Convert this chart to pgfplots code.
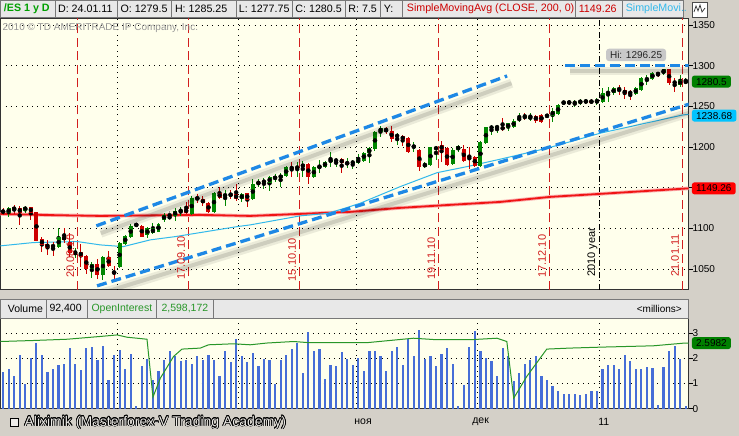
\documentclass[border=0pt]{standalone}
\usepackage{fontspec}
\setmainfont{Liberation Sans}
\usepackage{pgfplots}
\usepackage{pgfplotstable}
\pgfplotsset{compat=1.18}
\usepackage{contour}
\contourlength{0.6pt}

\definecolor{panel}{RGB}{212,208,200}
\definecolor{hdr}{RGB}{232,232,232}
\definecolor{hdrline}{RGB}{120,120,120}
\definecolor{plotbg}{RGB}{255,255,236}
\definecolor{cup}{RGB}{0,135,0}
\definecolor{cdn}{RGB}{205,0,0}
\definecolor{cdoji}{RGB}{175,160,160}
\definecolor{trend}{RGB}{30,136,229}
\definecolor{smared}{RGB}{240,20,20}
\definecolor{smacyan}{RGB}{50,185,235}
\definecolor{expred}{RGB}{210,30,30}
\definecolor{volblue}{RGB}{70,110,215}
\definecolor{oigreen}{RGB}{40,150,40}
\definecolor{boxgreen}{RGB}{0,128,0}
\definecolor{boxcyan}{RGB}{0,195,255}
\definecolor{boxred}{RGB}{255,0,0}
\definecolor{esgreen}{RGB}{0,160,0}
\definecolor{cright}{RGB}{150,150,150}
\definecolor{hibox}{RGB}{200,200,200}

% candles: bar index j, open, high, low, close
\pgfplotstableread[row sep=\\]{
j o h l c\\
1 1118.8 1126.1 1114.6 1124.9\\
4 1122.0 1128.1 1118.8 1126.9\\
10 1077.0 1100.3 1075.8 1089.3\\
13 1069.6 1075.8 1063.5 1071.6\\
16 1050.0 1059.3 1038.9 1056.5\\
18 1043.0 1066.4 1036.9 1064.7\\
21 1052.5 1083.9 1051.2 1082.7\\
22 1081.1 1092.1 1079.8 1090.9\\
23 1089.3 1105.6 1088.1 1103.2\\
24 1103.2 1107.2 1101.6 1105.6\\
26 1092.1 1102.3 1088.1 1100.3\\
27 1094.2 1107.2 1093.3 1100.3\\
28 1096.2 1106.5 1095.4 1105.6\\
29 1110.5 1119.5 1108.5 1116.7\\
31 1115.5 1124.9 1109.7 1122.0\\
32 1120.7 1126.1 1115.5 1122.8\\
34 1117.9 1140.0 1116.7 1137.2\\
38 1120.7 1145.3 1119.5 1144.1\\
40 1139.2 1147.4 1127.7 1142.5\\
43 1135.9 1144.1 1133.0 1142.5\\
45 1135.9 1160.5 1135.1 1154.7\\
46 1154.7 1160.5 1150.7 1157.6\\
47 1156.4 1161.7 1148.2 1158.8\\
48 1156.4 1164.6 1146.5 1163.0\\
49 1160.5 1167.0 1157.6 1163.7\\
50 1161.7 1167.9 1151.4 1165.8\\
51 1164.6 1176.9 1163.7 1175.3\\
53 1173.9 1182.1 1163.7 1176.0\\
54 1175.3 1183.4 1163.0 1179.3\\
56 1163.0 1176.9 1161.7 1175.3\\
57 1174.0 1184.2 1167.9 1176.9\\
58 1175.3 1183.4 1174.0 1182.1\\
59 1182.1 1194.4 1176.0 1184.2\\
60 1183.0 1186.3 1175.3 1184.2\\
62 1179.3 1186.3 1174.0 1180.9\\
63 1180.2 1184.2 1172.8 1182.1\\
64 1180.9 1191.6 1179.3 1185.1\\
65 1183.4 1194.4 1182.1 1193.2\\
66 1192.4 1199.8 1180.2 1198.6\\
67 1197.4 1220.2 1195.6 1219.0\\
68 1219.0 1226.0 1212.1 1223.1\\
71 1212.8 1217.0 1202.6 1214.9\\
74 1199.8 1206.7 1194.4 1201.4\\
76 1176.0 1182.1 1174.0 1179.3\\
77 1178.1 1200.5 1176.9 1199.8\\
78 1197.4 1201.4 1184.2 1199.8\\
81 1179.3 1199.0 1177.5 1196.5\\
82 1196.5 1202.6 1194.4 1201.4\\
86 1176.9 1207.9 1176.0 1206.7\\
87 1204.7 1225.1 1203.9 1224.4\\
88 1223.1 1227.2 1214.9 1225.1\\
89 1223.1 1227.2 1217.0 1226.0\\
91 1223.1 1230.0 1220.2 1229.3\\
92 1224.7 1234.6 1222.9 1232.1\\
93 1233.3 1242.3 1231.3 1235.4\\
95 1234.6 1242.3 1232.5 1237.4\\
99 1238.3 1247.7 1231.3 1244.8\\
100 1240.7 1253.0 1239.5 1251.8\\
101 1253.8 1257.0 1251.8 1255.8\\
103 1253.0 1257.9 1248.9 1255.8\\
104 1254.6 1258.8 1251.8 1257.0\\
105 1255.4 1258.8 1253.0 1257.0\\
107 1255.4 1260.0 1251.8 1257.9\\
108 1255.8 1272.3 1254.6 1266.1\\
109 1265.3 1273.5 1255.8 1268.1\\
110 1266.1 1274.2 1264.0 1272.3\\
114 1265.3 1274.2 1264.0 1272.3\\
115 1270.2 1285.8 1269.3 1284.5\\
116 1282.5 1288.6 1276.3 1284.5\\
117 1283.3 1292.7 1282.5 1291.4\\
119 1290.7 1296.25 1288.6 1295.6\\
122 1276.3 1288.6 1274.2 1282.5\\
123 1279.5 1285.25 1277.75 1280.5\\
}\up

\pgfplotstableread[row sep=\\]{
j o h l c\\
0 1122.8 1124.9 1116.7 1118.8\\
2 1126.1 1129.0 1117.5 1122.8\\
3 1124.9 1127.7 1104.4 1119.5\\
5 1126.1 1126.9 1110.5 1119.5\\
6 1120.0 1120.5 1084.5 1085.1\\
7 1086.8 1089.3 1071.6 1079.8\\
8 1081.1 1086.0 1067.6 1076.5\\
9 1079.8 1083.9 1066.4 1077.0\\
11 1090.0 1100.3 1082.7 1086.0\\
12 1083.9 1094.2 1065.5 1069.6\\
14 1071.6 1080.7 1053.2 1065.5\\
15 1066.4 1067.6 1044.2 1050.0\\
17 1056.5 1062.3 1037.7 1043.0\\
19 1064.7 1072.5 1053.2 1054.1\\
20 1047.1 1054.4 1037.7 1044.2\\
25 1103.2 1104.4 1089.3 1090.0\\
33 1124.0 1133.0 1117.9 1119.5\\
35 1138.4 1142.5 1131.0 1135.9\\
36 1135.9 1140.0 1127.7 1131.0\\
37 1131.0 1133.0 1118.8 1120.7\\
39 1144.1 1150.7 1135.9 1137.2\\
41 1142.5 1147.4 1135.9 1140.0\\
42 1142.5 1154.4 1134.2 1135.9\\
44 1143.3 1144.1 1126.9 1135.1\\
52 1175.3 1182.1 1163.0 1173.5\\
55 1179.3 1180.9 1154.7 1163.0\\
61 1185.1 1186.3 1167.9 1180.2\\
69 1221.9 1225.1 1216.2 1220.2\\
70 1220.2 1226.0 1206.7 1209.6\\
72 1213.7 1214.9 1201.4 1208.8\\
73 1210.9 1212.1 1193.2 1194.4\\
75 1196.5 1197.4 1171.1 1175.3\\
79 1202.6 1207.9 1182.1 1196.5\\
80 1198.6 1199.8 1176.9 1178.1\\
83 1197.4 1202.6 1182.1 1183.4\\
84 1189.1 1199.8 1172.8 1187.5\\
85 1188.3 1189.1 1175.3 1176.9\\
90 1224.4 1235.4 1220.2 1221.9\\
94 1238.3 1242.3 1233.3 1235.4\\
96 1238.3 1239.5 1230.0 1232.5\\
97 1239.5 1240.7 1230.0 1231.3\\
102 1255.8 1257.9 1251.8 1253.8\\
106 1257.0 1258.8 1253.0 1254.6\\
111 1272.3 1276.3 1264.0 1270.2\\
112 1270.2 1274.2 1258.8 1265.3\\
113 1268.1 1270.2 1257.9 1265.3\\
118 1291.4 1292.7 1285.8 1288.6\\
120 1295.6 1296.0 1276.3 1278.4\\
121 1280.4 1284.5 1268.1 1278.4\\
}\dn

\pgfplotstableread[row sep=\\]{
j o h l c\\
30 1114.2 1122.0 1110.5 1113.2\\
98 1238.5 1241.6 1235.4 1238.0\\
}\doji

\pgfplotstableread[row sep=\\]{
j p\\
-0.49 1117.9\\ 8 1116.5\\ 17.52 1115.4\\ 35.53 1116.7\\ 44.53 1115.4\\
53.54 1117.9\\ 62.54 1120.4\\ 71.55 1125.3\\ 80.55 1129.0\\ 89.56 1132.6\\
98.57 1138.8\\ 107.56 1142.5\\ 123.5 1149.26\\
}\smaslow

\pgfplotstableread[row sep=\\]{
j p\\
-0.49 1078.6\\ 5.46 1082.7\\ 13.38 1083.9\\ 17.52 1079.8\\ 21.66 1077.7\\
26.53 1086.0\\ 31.03 1090.0\\ 42.19 1102.3\\ 44.53 1104.4\\ 53.54 1115.5\\
58.4 1118.5\\ 61.64 1125.0\\ 64.34 1131.0\\ 71.55 1151.4\\ 78.21 1168.6\\
83.61 1176.0\\ 89.56 1185.1\\ 98.02 1198.6\\ 107.56 1217.0\\ 122.5 1239.5\\
123.5 1240.2\\
}\smafast

% volume, millions
\pgfplotstableread[row sep=\\]{
j v\\
0 1.47\\ 1 1.57\\ 2 1.30\\ 3 2.13\\ 4 0.99\\ 5 2.00\\ 6 2.62\\ 7 2.13\\ 8 1.47\\ 9 1.57\\
10 1.74\\ 11 1.78\\ 12 2.40\\ 13 1.78\\ 14 1.54\\ 15 2.40\\ 16 2.46\\ 17 1.94\\ 18 2.49\\ 19 1.12\\
20 2.13\\ 21 2.33\\ 22 1.57\\ 23 2.17\\ 24 0.12\\ 25 1.70\\ 26 1.96\\ 27 1.12\\ 28 1.51\\ 29 1.94\\
30 2.27\\ 31 2.07\\ 32 1.87\\ 33 1.91\\ 34 1.78\\ 35 2.07\\ 36 1.94\\ 37 2.13\\ 38 1.91\\ 39 1.30\\
40 2.27\\ 41 1.83\\ 42 2.75\\ 43 2.07\\ 44 1.83\\ 45 2.20\\ 46 1.70\\ 47 1.96\\ 48 1.94\\ 49 0.99\\
50 1.91\\ 51 2.13\\ 52 2.36\\ 53 2.62\\ 54 1.43\\ 55 3.02\\ 56 2.27\\ 57 2.36\\ 58 1.17\\ 59 1.74\\
60 1.70\\ 61 2.23\\ 62 1.96\\ 63 1.74\\ 64 2.00\\ 65 1.51\\ 66 2.27\\ 67 2.27\\ 68 2.07\\ 69 1.51\\
70 2.27\\ 71 2.44\\ 72 1.74\\ 73 2.75\\ 74 2.07\\ 75 3.12\\ 76 1.96\\ 77 2.07\\ 78 1.70\\ 79 2.17\\
80 2.40\\ 81 1.78\\ 82 0.12\\ 83 0.95\\ 84 2.44\\ 85 3.06\\ 86 2.29\\ 87 2.00\\ 88 1.87\\ 89 1.30\\
90 2.40\\ 91 2.09\\ 92 1.08\\ 93 1.43\\ 94 1.78\\ 95 1.94\\ 96 2.09\\ 97 1.30\\ 98 1.15\\ 99 0.91\\
100 0.69\\ 101 0.59\\ 102 0.59\\ 103 0.59\\ 104 0.55\\ 105 0.59\\ 106 0.72\\ 107 0.69\\ 108 1.57\\ 109 1.74\\
110 1.74\\ 111 1.57\\ 112 2.13\\ 113 1.87\\ 114 1.57\\ 115 1.57\\ 116 1.65\\ 117 1.61\\ 118 0.16\\ 119 1.65\\
120 2.29\\ 121 2.49\\ 122 1.96\\ 123 0.09\\
}\vol

% open interest, millions
\pgfplotstableread[row sep=\\]{
j v\\
-0.49 2.66\\ 5.46 2.70\\ 11.53 2.75\\ 17.52 2.86\\ 20.53 2.92\\ 22.33 2.83\\ 25.93 2.75\\
27.0 0.46\\ 28.33 1.21\\ 30.72 2.07\\ 32.23 2.36\\ 35.53 2.40\\ 37.02 2.53\\ 41.53 2.57\\
44.53 2.53\\ 47.54 2.60\\ 52.33 2.66\\ 54.75 2.62\\ 65.84 2.62\\ 73.94 2.79\\ 78.16 2.73\\
84.15 2.73\\ 88.96 2.79\\ 90.76 2.66\\ 92.0 0.42\\ 94.36 1.28\\ 97.96 2.36\\ 102.16 2.40\\
108.16 2.44\\ 117.16 2.49\\ 122.87 2.60\\ 123.5 2.598\\
}\oi

\newcommand{\candles}[2]{%
  \addplot[forget plot, only marks, mark=none,
    error bars/.cd, y dir=both, y explicit, error mark=none,
    error bar style={draw=#2, line width=1pt}]
    table[x=j, y expr={(\thisrow{h}+\thisrow{l})/2},
      y error expr={(\thisrow{h}-\thisrow{l})/2}] {#1};
  \addplot[forget plot, only marks, mark=none,
    error bars/.cd, y dir=both, y explicit, error mark=none,
    error bar style={draw=#2, line width=4pt}]
    table[x=j, y expr={(\thisrow{o}+\thisrow{c})/2},
      y error expr={max(abs(\thisrow{c}-\thisrow{o})/2,0.5)}] {#1};
}

\newcommand{\hcell}[5]{% x0 x1 pad text colour
  \filldraw[fill=hdr, draw=hdrline, line width=0.6pt] (#1,418.5) rectangle (#2,435.7);
  \node[anchor=west, inner sep=0pt, text=#5, font=\fontsize{10.7}{12}\selectfont] at (#1+#3,427.5) {#4};}
\newcommand{\lcell}[5]{%
  \filldraw[fill=hdr, draw=hdrline, line width=0.6pt] (#1,117.3) rectangle (#2,136.7);
  \node[anchor=west, inner sep=0pt, text=#5, font=\fontsize{10.5}{12}\selectfont] at (#1+#3,127) {#4};}

\tikzset{
  dotgrid/.style={black, line width=0.7pt, dash pattern=on 0.8pt off 4.5pt},
  valbox/.style={anchor=west, xshift=3.2pt, rounded corners=2.5pt, inner xsep=4.2pt,
    inner ysep=2.4pt, text height=7.2pt, text depth=0pt, text=black,
    font=\fontsize{10}{11}\selectfont},
  datelab/.style={rotate=90, anchor=south west, inner sep=0pt, text=expred,
    font=\fontsize{11}{12}\selectfont},
}

\begin{document}
\begin{tikzpicture}
\begin{scope}[x=1pt,y=1pt]
\useasboundingbox (0,0) rectangle (739,436);
\fill[panel] (0,0) rectangle (739,436);
\end{scope}

% price panel
\begin{axis}[
    at={(0pt,146pt)}, anchor=south west, scale only axis,
    width=688.5pt, height=272pt,
    xmin=-0.486, xmax=123.5, ymin=1024.6, ymax=1358.6,
    axis background/.style={fill=plotbg},
    axis line style={black!80, line width=0.8pt},
    xtick=\empty,
    ytick={1050,1100,1150,1200,1250,1300,1350},
    yticklabels={1050,1100,,1200,1250,1300,1350},
    ytick pos=right, yticklabel pos=right,
    tick align=outside, major tick length=4pt,
    tick style={black, line width=0.6pt},
    yticklabel style={font=\fontsize{10}{12}\selectfont, inner sep=0pt},
    ymajorgrids, grid style=dotgrid,
    clip mode=individual,
  ]
  \pgfplotsinvokeforeach{20.53,42.43,63.62,85.47}{
    \addplot[forget plot, dotgrid] coordinates {(#1,1024.6) (#1,1358.6)};}
  \addplot[forget plot, black, line width=0.8pt, dash pattern=on 6pt off 2.5pt on 1pt off 2.5pt]
    coordinates {(107.38,1024.6) (107.38,1358.6)};
  \pgfplotsinvokeforeach{13.43,33.42,53.41,78.51,98.43,122.39}{
    \addplot[forget plot, expred, line width=1pt, dash pattern=on 9pt off 4.5pt]
      coordinates {(#1,1024.6) (#1,1358.6)};}

  \addplot[forget plot, smared!35, line width=3.6pt] table[x=j, y=p] {\smaslow};
  \addplot[forget plot, smared, line width=1.8pt] table[x=j, y=p] {\smaslow};
  \addplot[forget plot, smacyan, line width=1pt] table[x=j, y=p] {\smafast};

  \candles{\up}{cup}
  \candles{\dn}{cdn}
  \candles{\doji}{cdoji}

  % channel lines with their shadows
  \addplot[forget plot, black, opacity=0.08, line width=9pt] coordinates {(17.6,1094.2) (91.62,1278.4)};
  \addplot[forget plot, black, opacity=0.12, line width=4pt] coordinates {(17.6,1094.2) (91.62,1278.4)};
  \addplot[forget plot, black, opacity=0.08, line width=9pt] coordinates {(17.73,1020.5) (125.3,1245.6)};
  \addplot[forget plot, black, opacity=0.12, line width=4pt] coordinates {(17.73,1020.5) (125.3,1245.6)};
  \addplot[forget plot, black, opacity=0.08, line width=8pt] coordinates {(102.06,1292.9) (125.3,1292.9)};
  \addplot[forget plot, black, opacity=0.12, line width=4pt] coordinates {(102.06,1292.9) (125.3,1292.9)};
  \addplot[forget plot, trend, line width=3.3pt, dash pattern=on 10pt off 5pt]
    coordinates {(16.80,1103.2) (90.82,1287.4)};
  \addplot[forget plot, trend, line width=3.3pt, dash pattern=on 10pt off 5pt]
    coordinates {(16.93,1029.5) (124.5,1254.6)};
  \addplot[forget plot, trend, line width=3.3pt, dash pattern=on 10pt off 5pt]
    coordinates {(101.26,1300.3) (124.5,1300.3)};

  \node[fill=hibox, rounded corners=3pt, inner xsep=4pt, inner ysep=2.6pt,
    font=\fontsize{10}{11}\selectfont, text=black!85] at (axis cs:114.05,1313.2) {Hi: 1296.25};

  \node[datelab] at ([xshift=-3.3pt]axis cs:13.43,1039.3) {20.08.10};
  \node[datelab] at ([xshift=-3.3pt]axis cs:33.42,1037) {17.09.10};
  \node[datelab] at ([xshift=-3.3pt]axis cs:53.41,1035) {15.10.10};
  \node[datelab] at ([xshift=-3.3pt]axis cs:78.51,1037) {19.11.10};
  \node[datelab] at ([xshift=-3.3pt]axis cs:98.43,1039.3) {17.12.10};
  \node[datelab] at ([xshift=-3.3pt]axis cs:122.39,1041) {21.01.11};
  \node[datelab, text=black] at ([xshift=-1.5pt]axis cs:107.38,1040.5) {2010 year};

  \coordinate (vG) at (axis cs:123.5,1280.5);
  \coordinate (vC) at (axis cs:123.5,1238.68);
  \coordinate (vR) at (axis cs:123.5,1149.26);
\end{axis}

% volume and open interest panel
\begin{axis}[
    at={(0pt,27pt)}, anchor=south west, scale only axis,
    width=688.5pt, height=90pt,
    xmin=-0.486, xmax=123.5, ymin=0, ymax=3.557,
    axis background/.style={fill=plotbg},
    axis line style={black!80, line width=0.8pt},
    xtick=\empty,
    ytick={0,1,2,3}, yticklabels={0,1,2,3},
    ytick pos=right, yticklabel pos=right,
    tick align=outside, major tick length=4pt,
    tick style={black, line width=0.6pt},
    yticklabel style={font=\fontsize{10}{12}\selectfont, inner sep=0pt},
    ymajorgrids, grid style=dotgrid,
    clip mode=individual,
  ]
  \pgfplotsinvokeforeach{20.53,42.43,63.62,85.47,107.38}{
    \addplot[forget plot, dotgrid] coordinates {(#1,0) (#1,3.557)};}
  \addplot[forget plot, ycomb, volblue, line width=2.2pt] table[x=j, y=v] {\vol};
  \addplot[forget plot, oigreen, line width=1pt] table[x=j, y=v] {\oi};
  \coordinate (vO) at (axis cs:123.5,2.5982);
\end{axis}

% price tags on the right
\node[valbox, fill=boxgreen] at (vG) {1280.5};
\node[valbox, fill=boxcyan] at (vC) {1238.68};
\node[valbox, fill=boxred] at (vR) {1149.26};
\node[valbox, fill=boxgreen] at (vO) {2.5982};

\begin{scope}[x=1pt,y=1pt]
% top header
\hcell{0.3}{55}{3}{\bfseries /ES 1 y D}{esgreen}
\hcell{55}{117}{2.5}{D: 24.01.11}{black}
\hcell{117}{171}{3}{O: 1279.5}{black}
\hcell{171}{236}{3.5}{H: 1285.25}{black}
\hcell{236}{292}{2.5}{L: 1277.75}{black}
\hcell{292}{345}{3}{C: 1280.5}{black}
\hcell{345}{380}{3}{R: 7.5}{black}
\hcell{380}{402}{3.5}{Y:}{black}
\hcell{402}{575}{4.5}{SimpleMovingAvg (CLOSE, 200, 0)}{cdn}
\hcell{575}{622}{3.5}{1149.26}{cdn}
\hcell{622}{683}{3.5}{SimpleMovi..}{smacyan}
\filldraw[fill=white, draw=black!70, line width=0.7pt] (692,419) rectangle (707,434);
\draw[black!80, line width=0.7pt] (694,424) -- (696,430) -- (698,425) -- (700,431) -- (702,424) -- (705,428);

\node[anchor=west, inner sep=0pt, text=cright, font=\fontsize{10}{12}\selectfont]
  at (2,408) {2010 © TD AMERITRADE IP Company, Inc.};

% lower header
\lcell{0.3}{46}{7}{Volume}{black}
\lcell{46}{87}{3}{92,400}{black}
\lcell{87}{156}{4}{OpenInterest}{oigreen}
\lcell{156}{213}{5}{2,598,172}{oigreen}
\filldraw[fill=hdr, draw=hdrline, line width=0.6pt] (213,117.3) rectangle (688.5,136.7);
\node[anchor=east, inner sep=0pt, font=\fontsize{10}{12}\selectfont] at (682,127) {<millions>};

% bottom bar
\filldraw[fill=panel!40!white, draw=black, line width=0.8pt] (10,9) rectangle (18.5,17.5);
\node[anchor=west, inner sep=0pt, font=\fontsize{14}{16}\selectfont]
  at (24,13) {\contour{black}{\textcolor{panel!45!white}{Aliximik (Masterforex-V Trading Academy)}}};
\node[anchor=west, inner sep=0pt, font=\fontsize{10.5}{12}\selectfont] at (354,14) {ноя};
\node[anchor=west, inner sep=0pt, font=\fontsize{10.5}{12}\selectfont] at (472,14) {дек};
\node[anchor=west, inner sep=0pt, font=\fontsize{10.5}{12}\selectfont] at (598,14) {11};
\end{scope}
\end{tikzpicture}
\end{document}
